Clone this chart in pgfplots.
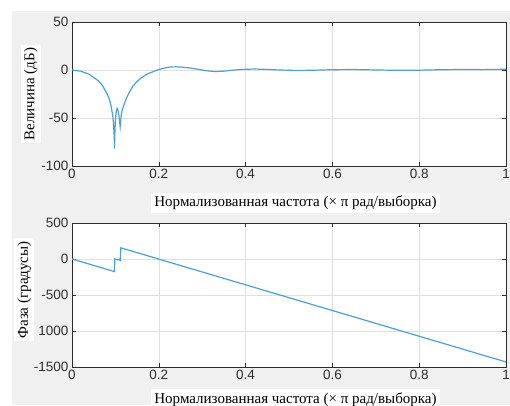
\documentclass[border=0pt]{standalone}
\usepackage{fontspec}
\setmainfont{Liberation Serif}
\newfontfamily\ticksf{Liberation Sans}
\usepackage{pgfplots}
\pgfplotsset{compat=1.18}
\definecolor{bg}{RGB}{240,240,240}
\definecolor{mblue}{RGB}{77,160,215}
\definecolor{tickc}{RGB}{45,45,45}
\pgfplotsset{
  mlab/.style={
    scale only axis, width=434pt, height=144pt, xmin=0, xmax=1,
    axis background/.style={fill=white},
    grid=major, major grid style={black!12, line width=0.5pt},
    tick align=inside, tick style={tickc, line width=0.5pt}, major tick length=4pt,
    axis line style={tickc, line width=0.6pt},
    xtick={0,0.2,0.4,0.6,0.8,1},
    xticklabels={0,0.2,0.4,0.6,0.8,1},
    ticklabel style={font=\ticksf\fontsize{13.5}{13.5}\selectfont, text=tickc},
    /pgf/number format/assume math mode=true,
    label style={font=\fontsize{15}{17}\selectfont, fill=white, text=black, inner sep=3pt},
    anchor=south west,
  }
}
\begin{document}
\begin{tikzpicture}[x=1pt,y=1pt]
\useasboundingbox (0,0) rectangle (510,405);
\fill[bg] (12,0) rectangle (512,394);
% magnitude
\begin{axis}[mlab, at={(72pt,239pt)}, ymin=-100, ymax=50, ytick={-100,-50,0,50},
  xlabel={Нормализованная частота (× π рад/выборка)},
  ylabel={Величина (дБ)},
  xlabel style={at={(axis description cs:0.515,-0.257)}, anchor=center},
  ylabel style={at={(axis description cs:-0.095,0.5)}, anchor=center}]
\addplot[mblue, line width=1.2pt] coordinates {
(0,0) (0.02,-1.2) (0.04,-4.5) (0.06,-11) (0.07,-16) (0.08,-24) (0.085,-29)
(0.09,-37) (0.094,-48) (0.096,-58) (0.0975,-72) (0.098,-82) (0.0985,-70)
(0.1,-52) (0.102,-43) (0.104,-40) (0.106,-42) (0.108,-47) (0.11,-55)
(0.111,-59) (0.112,-54) (0.114,-45) (0.117,-40) (0.12,-36) (0.125,-30)
(0.13,-25) (0.14,-17) (0.15,-12) (0.16,-8) (0.17,-5) (0.18,-3) (0.19,-1.2)
(0.2,0.5) (0.21,1.8) (0.22,2.7) (0.23,3.2) (0.24,3.3) (0.25,3.1) (0.27,2.2)
(0.29,0.8) (0.31,-0.8) (0.33,-1.6) (0.35,-1.2) (0.37,-0.2) (0.39,0.6)
(0.42,1) (0.45,0.6) (0.48,0) (0.52,-0.5) (0.56,-0.2) (0.6,0.3) (0.65,0.5)
(0.7,0) (0.75,-0.3) (0.8,-0.2) (0.85,0.3) (0.9,0.5) (0.95,0.4) (1,0.8)
};
\end{axis}
% phase
\begin{axis}[mlab, at={(72pt,38pt)}, ymin=-1500, ymax=500,
  ytick={-1500,-1000,-500,0,500},
  yticklabels={-1500,1000,-500,0,500},
  xlabel={Нормализованная частота (× π рад/выборка)},
  ylabel={Фаза (градусы)},
  xlabel style={at={(axis description cs:0.515,-0.225)}, anchor=center},
  ylabel style={at={(axis description cs:-0.11,0.535)}, anchor=center}]
\addplot[mblue, line width=1.2pt] coordinates {
(0,0) (0.098,-175) (0.0985,0) (0.104,-10) (0.108,-10) (0.111,-20)
(0.1125,155) (1,-1430)
};
\end{axis}
\end{tikzpicture}
\end{document}
